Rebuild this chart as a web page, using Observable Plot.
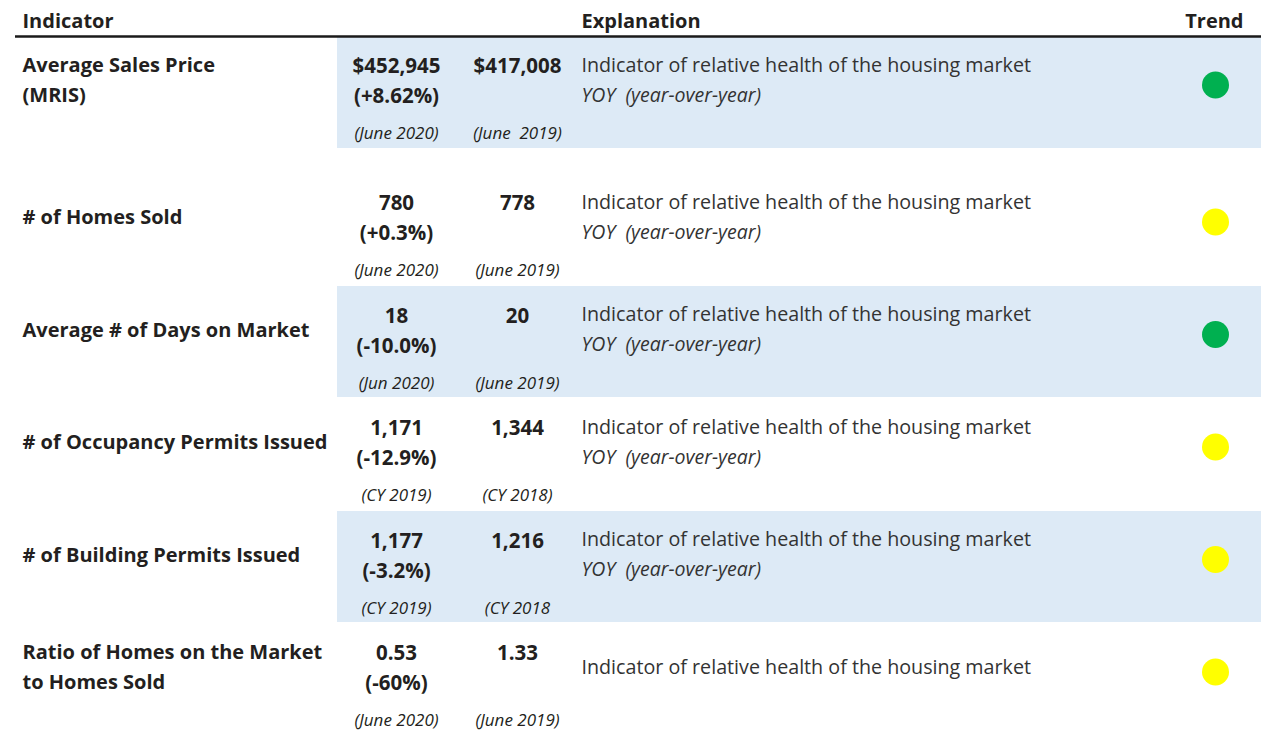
<!DOCTYPE html>
<html>
<head>
<meta charset="utf-8">
<script src="https://cdn.jsdelivr.net/npm/d3@7"></script>
<script src="https://cdn.jsdelivr.net/npm/@observablehq/plot@0.6"></script>
<style>
  html, body { margin: 0; padding: 0; background: #fff; }
  svg { display: block; }
</style>
</head>
<body>
<div id="chart"></div>
<script>
// ---- data ----
const headers = ["Indicator", "Explanation", "Trend"];
const indicators = [
  "Average Sales Price\n(MRIS)",
  "# of Homes Sold",
  "Average # of Days on Market",
  "# of Occupancy Permits Issued",
  "# of Building Permits Issued",
  "Ratio of Homes on the Market\nto Homes Sold"
];
const currentValues = ["$452,945", "780", "18", "1,171", "1,177", "0.53"];
const changes = ["(+8.62%)", "(+0.3%)", "(-10.0%)", "(-12.9%)", "(-3.2%)", "(-60%)"];
const priorValues = ["$417,008", "778", "20", "1,344", "1,216", "1.33"];
const currentPeriods = ["(June 2020)", "(June 2020)", "(Jun 2020)", "(CY 2019)", "(CY 2019)", "(June 2020)"];
const priorPeriods = ["(June  2019)", "(June 2019)", "(June 2019)", "(CY 2018)", "(CY 2018", "(June 2019)"];
const explanations = Array(6).fill("Indicator of relative health of the housing market");
const explanationNotes = ["YOY  (year-over-year)", "YOY  (year-over-year)", "YOY  (year-over-year)", "YOY  (year-over-year)", "YOY  (year-over-year)", ""];
const trends = ["green", "yellow", "green", "yellow", "yellow", "yellow"];
const shaded = [true, false, true, false, true, false];

// ---- layout (not data) ----
const colX = {label: 22, current: 396, prior: 517, explanation: 581, trend: 1215, trendRight: 1243, shadeLeft: 337, right: 1261};
const rowTop = i => (i === 0 ? 37 : 174 + (i - 1) * 112.5);
const rowH = 111;

const rows = indicators.map((name, i) => ({
  i, name,
  current: currentValues[i] + "\n" + changes[i],
  prior: priorValues[i],
  curPeriod: currentPeriods[i],
  priorPeriod: priorPeriods[i],
  note: explanationNotes[i],
  trend: trends[i],
  shaded: shaded[i]
}));

const font = "'Open Sans', sans-serif";
const dark = "#231f20";

const chart = Plot.plot({
  width: 1261,
  height: 731,
  margin: 0,
  x: {type: "identity", axis: null},
  y: {type: "identity", axis: null},
  color: {type: "identity"},
  style: {fontFamily: font, background: "#fff"},
  marks: [
    // shading
    Plot.rect(rows.filter(d => d.shaded), {
      x1: () => colX.shadeLeft, x2: () => colX.right,
      y1: d => rowTop(d.i) - (d.i ? 0.5 : 0), y2: d => rowTop(d.i) + rowH - (d.i ? 0.5 : 0),
      fill: "#ddeaf6"
    }),
    // header
    Plot.text([headers[0]], {x: () => colX.label, y: () => 21, text: d => d, textAnchor: "start", fontWeight: 700, fontSize: 20, fill: dark}),
    Plot.text([headers[1]], {x: () => colX.explanation, y: () => 21, text: d => d, textAnchor: "start", fontWeight: 700, fontSize: 20, fill: dark}),
    Plot.text([headers[2]], {x: () => colX.trendRight, y: () => 21, text: d => d, textAnchor: "end", fontWeight: 700, fontSize: 20, fill: dark}),
    Plot.ruleY([0], {x1: () => 15, x2: () => colX.right, y: () => 36, stroke: "#1a1a1a", strokeWidth: 2.5}),
    // indicator labels
    Plot.text(rows, {x: () => colX.label, y: d => rowTop(d.i) + 40, text: "name", textAnchor: "start", fontWeight: 700, fontSize: 20, lineHeight: 1.5, fill: dark}),
    // current value + change
    Plot.text(rows, {x: () => colX.current, y: d => rowTop(d.i) + 41, text: "current", textAnchor: "middle", fontWeight: 700, fontSize: 20.5, lineHeight: 1.46, fill: dark}),
    // prior value
    Plot.text(rows, {x: () => colX.prior, y: d => rowTop(d.i) + 29, text: "prior", textAnchor: "middle", fontWeight: 700, fontSize: 20.5, fill: dark}),
    // periods
    Plot.text(rows, {x: () => colX.current, y: d => rowTop(d.i) + 96.5, text: "curPeriod", textAnchor: "middle", fontStyle: "italic", fontSize: 17, fill: dark}),
    Plot.text(rows, {x: () => colX.prior, y: d => rowTop(d.i) + 96.5, text: "priorPeriod", textAnchor: "middle", fontStyle: "italic", fontSize: 17, fill: dark}),
    // explanation
    Plot.text(rows.filter(d => d.note), {x: () => colX.explanation, y: d => rowTop(d.i) + 28, text: d => explanations[d.i], textAnchor: "start", fontSize: 19.7, fill: "#333"}),
    Plot.text(rows.filter(d => d.note), {x: () => colX.explanation, y: d => rowTop(d.i) + 58, text: "note", textAnchor: "start", fontStyle: "italic", fontSize: 19.5, fill: "#333"}),
    Plot.text(rows.filter(d => !d.note), {x: () => colX.explanation, y: d => rowTop(d.i) + 43.5, text: d => explanations[d.i], textAnchor: "start", fontSize: 19.7, fill: "#333"}),
    // trend dots
    Plot.dot(rows, {x: () => colX.trend, y: d => rowTop(d.i) + 47.5, r: 13.5, fill: d => d.trend === "green" ? "#00b050" : "#ffff00", stroke: "none"})
  ]
});
document.getElementById("chart").appendChild(chart);
</script>
</body>
</html>
